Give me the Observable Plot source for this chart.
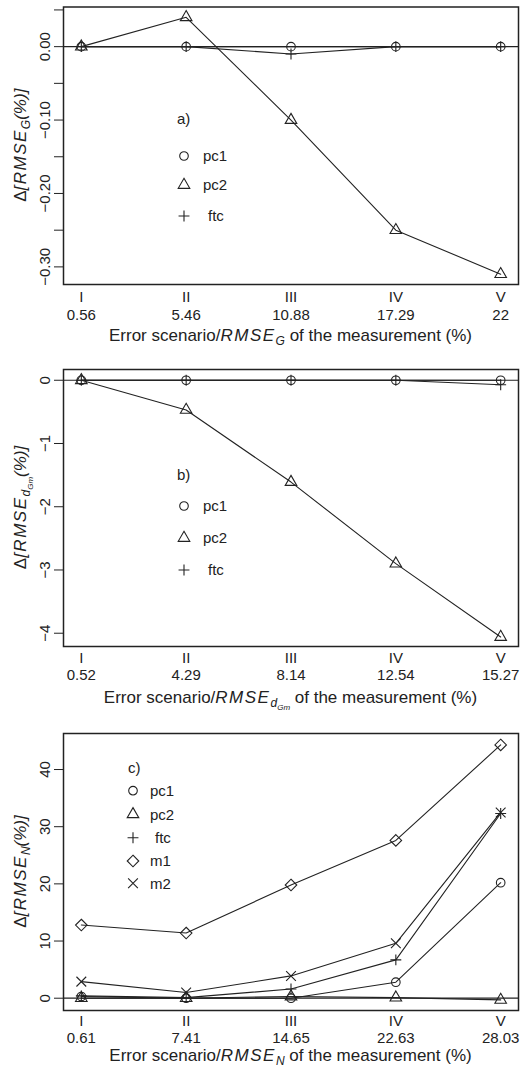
<!DOCTYPE html>
<html><head><meta charset="utf-8">
<script src="https://cdn.jsdelivr.net/npm/d3@7"></script>
<script src="https://cdn.jsdelivr.net/npm/@observablehq/plot@0.6"></script>
<style>
html,body{margin:0;padding:0;background:#fff;}
#chart svg{display:block;}
</style></head><body><div id="chart"></div>
<script>
// ---- data ----
const scenarios = ["I","II","III","IV","V"];

// panel a
const rmseG = ["0.56","5.46","10.88","17.29","22"];
const aPc1 = [0, 0, 0, 0, 0];
const aPc2 = [0, 0.04, -0.10, -0.25, -0.31];
const aFtc = [0, 0, -0.01, 0, 0];
const aTicks = [0.05, 0, -0.05, -0.10, -0.15, -0.20, -0.25, -0.30];
const aTickLabels = ["", "0.00", "", "−0.10", "", "−0.20", "", "−0.30"];

// panel b
const rmseD = ["0.52","4.29","8.14","12.54","15.27"];
const bPc1 = [0, 0, 0, 0, 0];
const bPc2 = [0, -0.47, -1.61, -2.90, -4.06];
const bFtc = [0, 0, 0, 0, -0.07];
const bTicks = [0, -1, -2, -3, -4];
const bTickLabels = ["0", "−1", "−2", "−3", "−4"];

// panel c
const rmseN = ["0.61","7.41","14.65","22.63","28.03"];
const cPc1 = [0.3, 0, 0, 2.8, 20.2];
const cPc2 = [0, 0, 0.3, 0.1, -0.3];
const cFtc = [0.4, 0.1, 1.6, 6.7, 32.3];
const cM1 = [12.8, 11.4, 19.8, 27.6, 44.3];
const cM2 = [2.9, 1.0, 3.9, 9.6, 32.5];
const cTicks = [0, 10, 20, 30, 40];
const cTickLabels = ["0", "10", "20", "30", "40"];

// ---- styling ----
const INK = "#222";
const FONT = "'Liberation Sans', Arial, Helvetica, sans-serif";
const symbolOf = {pc1: "circle", pc2: "triangle", ftc: "plus", m1: "diamond2", m2: "times"};
const d3Sym = {circle: d3.symbolCircle, triangle: d3.symbolTriangle, plus: d3.symbolPlus, diamond2: d3.symbolDiamond2, times: d3.symbolTimes};
const rOf = {pc1: 4.3, pc2: 4.3, ftc: 3.6, m1: 5.2, m2: 4.5};

function rich(sel, parts) {
  let prev = 0;
  for (const p of parts) {
    const shift = p.shift || 0;
    const t = sel.append("tspan").text(p.t).attr("dy", shift - prev);
    if (p.it) t.attr("font-style", "italic");
    if (p.size) t.attr("font-size", p.size);
    if (p.ls) t.attr("letter-spacing", p.ls);
    prev = shift;
  }
}

function panel(cfg) {
  const rows = [];
  for (const [s, vals] of cfg.series) vals.forEach((v, i) => rows.push({s, i: i + 1, v}));
  const marks = [
    Plot.ruleY([0], {stroke: INK, strokeWidth: 1.2}),
    Plot.line(rows, {x: "i", y: "v", z: "s", stroke: INK, strokeWidth: 1.1}),
    ...cfg.series.map(([s]) => Plot.dot(rows.filter(d => d.s === s), {x: "i", y: "v", symbol: symbolOf[s], r: rOf[s], stroke: INK, fill: "none", strokeWidth: 1.1})),
    Plot.frame({stroke: INK, strokeWidth: 1.5}),
    Plot.axisY({ticks: cfg.ticks, tickSize: 9, tickRotate: -90, tickPadding: 5, fontSize: 15,
      tickFormat: d => cfg.tickLabels[cfg.ticks.indexOf(d)], label: null}),
    Plot.axisX({ticks: [1,2,3,4,5], tickSize: 0, tickPadding: cfg.romanPad, fontSize: 15,
      tickFormat: d => scenarios[d - 1], label: null}),
    Plot.axisX({ticks: [1,2,3,4,5], tickSize: 0, tickPadding: cfg.numPad, fontSize: 15,
      tickFormat: d => cfg.xLabels[d - 1], label: null})
  ];
  const svg = Plot.plot({
    width: 528, height: cfg.height,
    marginLeft: 63, marginRight: 10, marginTop: cfg.marginTop, marginBottom: cfg.marginBottom,
    style: `font-family:${FONT};font-size:15px;color:${INK};background:#fff;overflow:visible;`,
    x: {domain: [0.83, 5.17]},
    y: {domain: cfg.yDomain},
    marks
  });
  const g = d3.select(svg);
  // x title
  const xt = g.append("text").attr("x", 290.5).attr("y", cfg.xTitleY).attr("text-anchor", "middle")
    .attr("font-size", 17).attr("fill", INK);
  rich(xt, cfg.xTitle);
  // y title
  const cy = cfg.marginTop + (cfg.height - cfg.marginTop - cfg.marginBottom) / 2;
  const yt = g.append("text").attr("transform", `translate(26,${cy}) rotate(-90)`).attr("text-anchor", "middle")
    .attr("font-size", 17).attr("fill", INK);
  rich(yt, cfg.yTitle);
  // legend
  const L = cfg.legend;
  g.append("text").attr("x", L.tagX).attr("y", L.tagY).attr("dy", "0.35em").attr("text-anchor", "start")
    .attr("font-size", 15).attr("fill", INK).text(cfg.tag);
  cfg.series.forEach(([s], k) => {
    const y = L.ys[k];
    g.append("path").attr("transform", `translate(${L.symX},${y})`)
      .attr("d", d3.symbol(d3Sym[symbolOf[s]], Math.PI * rOf[s] * rOf[s])())
      .attr("fill", "none").attr("stroke", INK).attr("stroke-width", 1.1);
    g.append("text").attr("x", s === "ftc" ? L.textX + 5 : L.textX).attr("y", y).attr("dy", "0.35em")
      .attr("text-anchor", "start").attr("font-size", 15).attr("fill", INK).text(s);
  });
  return svg;
}

const sub = (main) => [{t: "Error scenario/"}, {t: "RMSE", it: true, ls: 1.5}, ...main, {t: " of the measurement (%)", shift: 0}];
const ylab = (main) => [{t: "Δ"}, {t: "[RMSE", it: true, ls: 1.5}, ...main, {t: "(%)]", it: true, shift: 0}];

const chart = document.getElementById("chart");

chart.appendChild(panel({
  tag: "a)",
  series: [["pc1", aPc1], ["pc2", aPc2], ["ftc", aFtc]],
  xLabels: rmseG, ticks: aTicks, tickLabels: aTickLabels,
  yDomain: [-0.324, 0.054],
  height: 348, marginTop: 6.5, marginBottom: 64,
  romanPad: 7, numPad: 25, xTitleY: 341,
  xTitle: sub([{t: "G", it: true, size: 12, shift: 4}]),
  yTitle: ylab([{t: "G", it: true, size: 12, shift: 4}]),
  legend: {tagX: 177, tagY: 119, symX: 184, textX: 203, ys: [156, 185, 216]}
}));

chart.appendChild(panel({
  tag: "b)",
  series: [["pc1", bPc1], ["pc2", bPc2], ["ftc", bFtc]],
  xLabels: rmseD, ticks: bTicks, tickLabels: bTickLabels,
  yDomain: [-4.21, 0.17],
  height: 364, marginTop: 21, marginBottom: 66,
  romanPad: 5.5, numPad: 22.5, xTitleY: 355,
  xTitle: sub([{t: "d", it: true, size: 12, shift: 4}, {t: "Gm", it: true, size: 8, shift: 7}]),
  yTitle: ylab([{t: "d", it: true, size: 12, shift: 4}, {t: "Gm", it: true, size: 8, shift: 7}]),
  legend: {tagX: 177, tagY: 127, symX: 184, textX: 203, ys: [158, 190, 222]}
}));

chart.appendChild(panel({
  tag: "c)",
  series: [["pc1", cPc1], ["pc2", cPc2], ["ftc", cFtc], ["m1", cM1], ["m2", cM2]],
  xLabels: rmseN, ticks: cTicks, tickLabels: cTickLabels,
  yDomain: [-2.15, 46.3],
  height: 362, marginTop: 21, marginBottom: 64,
  romanPad: 5, numPad: 22, xTitleY: 349,
  xTitle: sub([{t: "N", it: true, size: 12, shift: 4}]),
  yTitle: ylab([{t: "N", it: true, size: 12, shift: 4}]),
  legend: {tagX: 128, tagY: 56, symX: 133, textX: 150, ys: [78.7, 102.3, 125.7, 149, 171.3]}
}));
</script></body></html>
